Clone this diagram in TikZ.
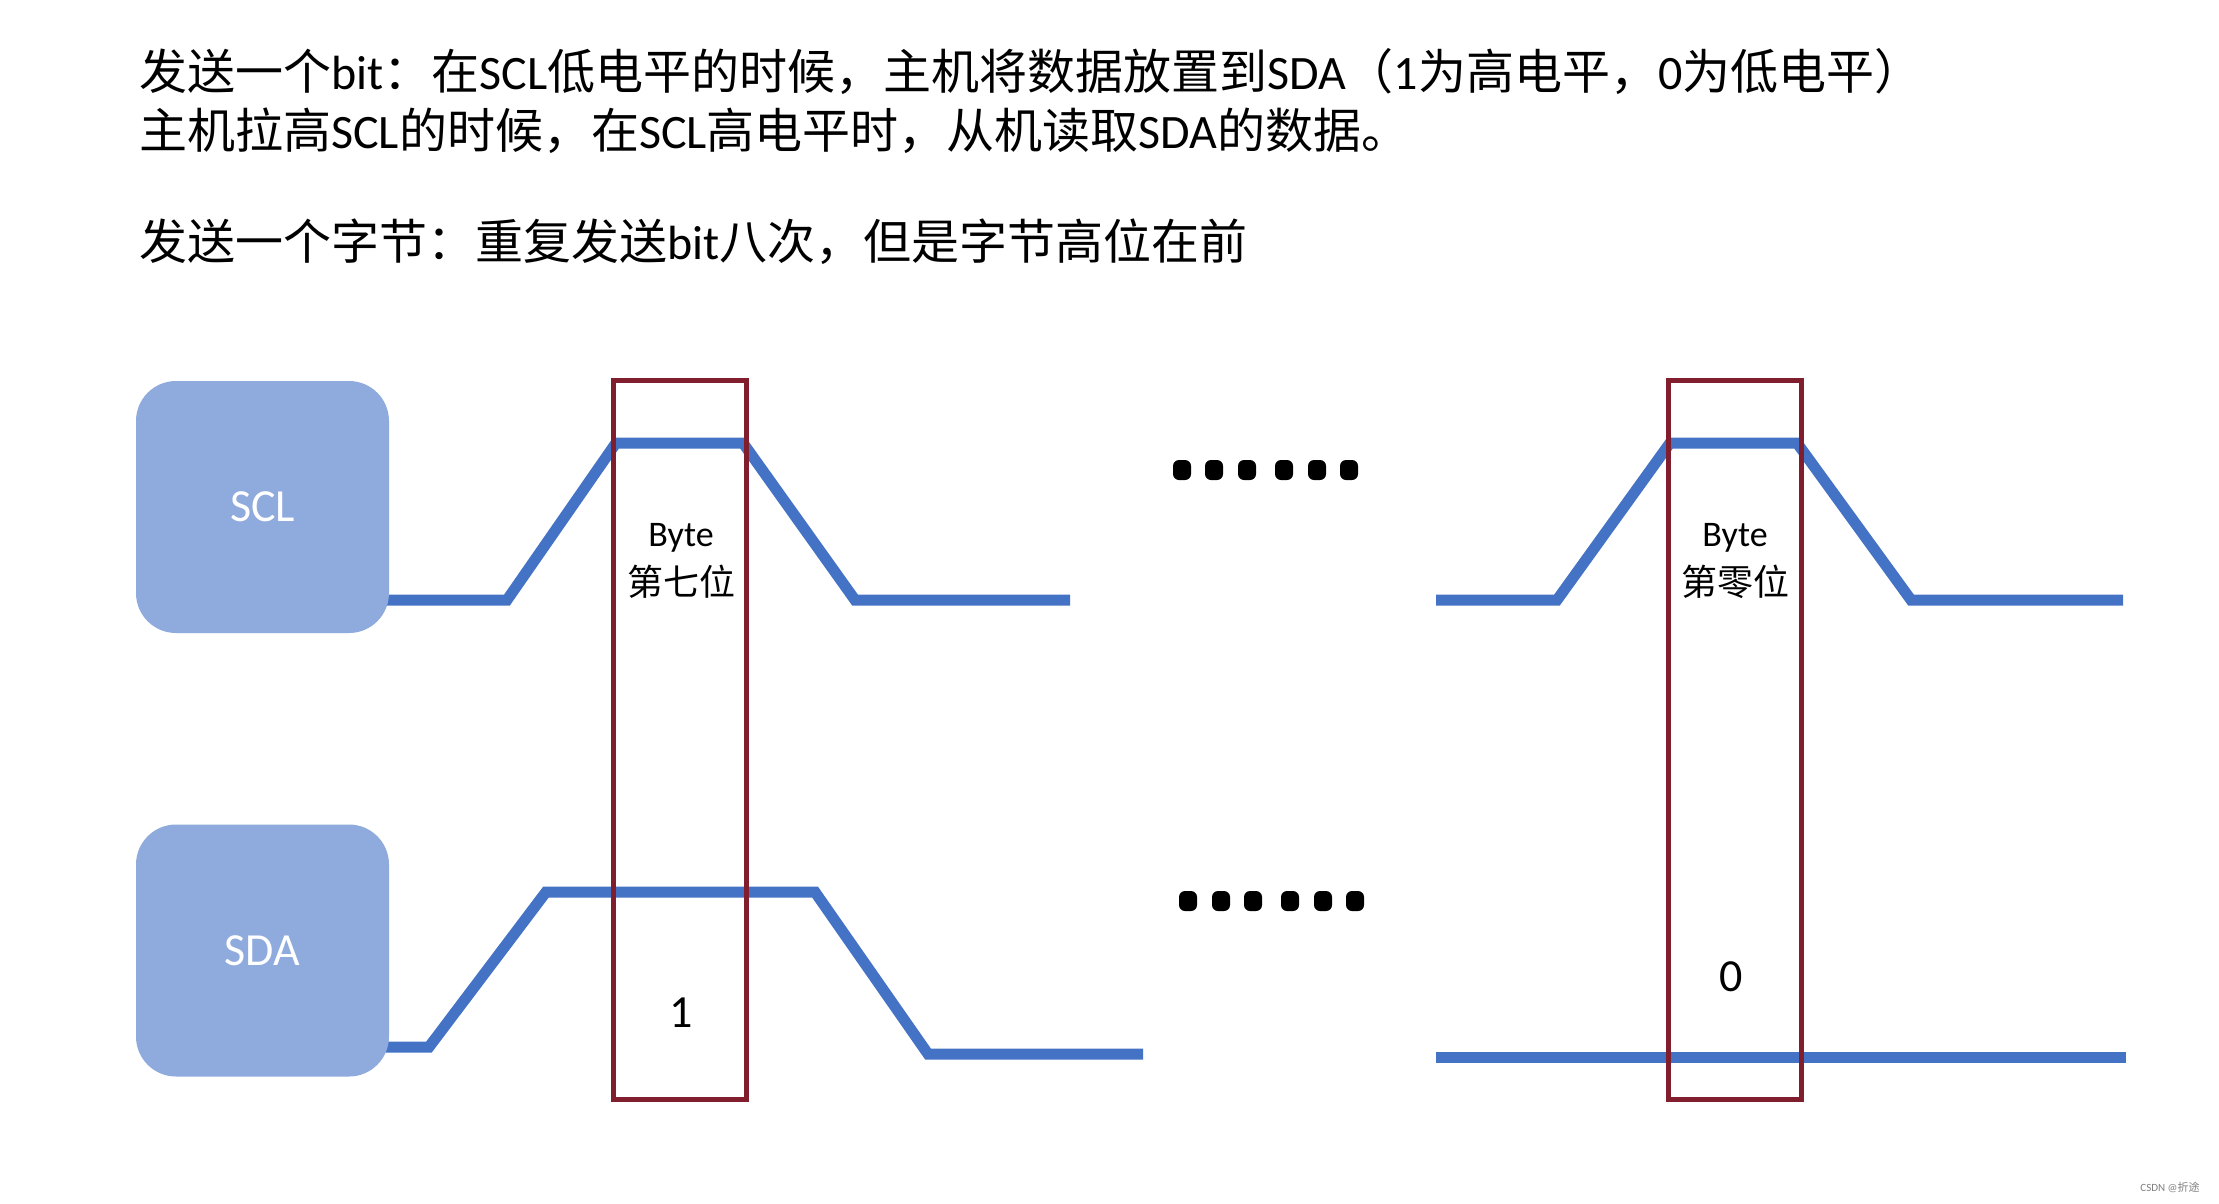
\documentclass[tikz,border=0pt]{standalone}
\usepackage{fontspec}
\setmainfont{Carlito}
\newfontfamily\cjk{Noto Sans CJK SC}
\newcommand\zh[1]{{\cjk #1}}
\definecolor{boxblue}{HTML}{8FAADC}
\definecolor{waveblue}{HTML}{4472C4}
\definecolor{bitred}{RGB}{128,30,45}
\tikzset{
  sigbox/.style={fill=boxblue, rounded corners=40pt, minimum width=253pt, minimum height=252pt, inner sep=0pt, text=white, font=\fontsize{46pt}{50pt}\selectfont},
  wave/.style={draw=waveblue, line width=11pt, line join=miter},
  bitbox/.style={draw=bitred, line width=5pt, minimum width=133pt, minimum height=719pt, inner sep=0pt},
  title/.style={anchor=base west, inner sep=0pt, font=\fontsize{48pt}{56pt}\selectfont},
  small/.style={inner sep=0pt, font=\fontsize{36pt}{40pt}\selectfont},
  bitval/.style={inner sep=0pt, font=\fontsize{46pt}{50pt}\selectfont},
  dot/.style={fill=black, rounded corners=6pt, minimum width=18pt, minimum height=20pt, inner sep=0pt}
}
\begin{document}
\begin{tikzpicture}[x=1pt,y=-1pt]
\useasboundingbox[fill=white] (0,0) rectangle (2219,1203);
% title text
\node[title] (t1) at (139,89) {\zh{发送一个}bit\zh{：在}SCL\zh{低电平的时候，主机将数据放置到}SDA\zh{（}1\zh{为高电平，}0\zh{为低电平）}};
\node[title] (t2) at (139,148) {\zh{主机拉高}SCL\zh{的时候，在}SCL\zh{高电平时，从机读取}SDA\zh{的数据。}};
\node[title] (t3) at (139,259) {\zh{发送一个字节：重复发送}bit\zh{八次，但是字节高位在前}};
% waveforms
\draw[wave] (384,600) -- (507,600) -- (616,443) -- (743,443) -- (855,600) -- (1070,600);
\draw[wave] (384,1047) -- (429,1047) -- (546,892) -- (815,892) -- (928,1054) -- (1143,1054);
\draw[wave] (1436,600) -- (1557,600) -- (1670,443) -- (1797,443) -- (1911,600) -- (2123,600);
\draw[wave] (1436,1057) -- (2126,1057);
% signal boxes
\node[sigbox] (scl) at (262.5,507) {SCL};
\node[sigbox] (sda) at (262.5,950.5) {SDA};
% bit boxes
\node[bitbox] (b7) at (679.5,739.5) {};
\node[bitbox] (b0) at (1734.5,739.5) {};
\node[small] (b7a) at (681,538) {Byte};
\node[small] (b7b) at (681,582) {\zh{第七位}};
\node[small] (b0a) at (1735,538) {Byte};
\node[small] (b0b) at (1735,582) {\zh{第零位}};
\node[bitval] (v1) at (681,1013) {1};
\node[bitval] (v0) at (1731,977) {0};
% dots
\foreach \x [count=\i] in {1182,1214,1247,1284,1317,1349} {
  \node[dot] (dt\i) at (\x,470) {};
}
\foreach \x [count=\i] in {1188,1221,1253,1290,1323,1355} {
  \node[dot] (db\i) at (\x,901) {};
}
% watermark
\node[inner sep=0pt, text=gray, font=\fontsize{11pt}{12pt}\selectfont] (wm) at (2170,1187) {CSDN @\zh{折途}};
\end{tikzpicture}
\end{document}
